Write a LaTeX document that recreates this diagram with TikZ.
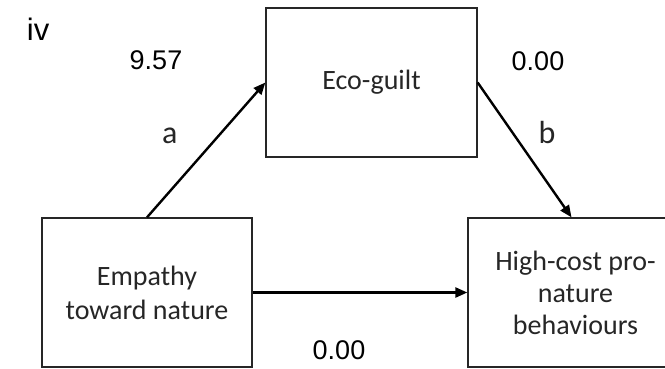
\documentclass[tikz,border=0pt]{standalone}
\usepackage{fontspec}
\setmainfont{Carlito}
\newfontfamily\numfont{Liberation Sans}
\usetikzlibrary{arrows.meta}
\definecolor{inkgray}{HTML}{262626}
\tikzset{
  varbox/.style={draw=inkgray, line width=1.3pt, inner sep=0pt, align=center,
    minimum height=149pt, text=inkgray, font=\fontsize{28}{34}\selectfont},
  path/.style={line width=2.4pt, -{Triangle[length=12pt,width=10pt]}},
  coef/.style={inner sep=0pt, anchor=base, font=\numfont\fontsize{27}{30}\selectfont},
  pathname/.style={inner sep=0pt, anchor=base, text=inkgray, font=\fontsize{32}{36}\selectfont}
}
\begin{document}
\begin{tikzpicture}[x=1pt, y=-1pt]
  \useasboundingbox (0,0) rectangle (665,368);
  % variables
  \node[varbox, minimum width=211pt] (eco) at (371.5,82.5) {Eco-guilt};
  \node[varbox, minimum width=210pt] (emp) at (147,292.5) {Empathy\\toward nature};
  \node[varbox, minimum width=215pt, font=\fontsize{28}{32}\selectfont] (high) at (575.5,292.5)
    {High-cost pro-\\nature\\behaviours};
  % paths
  \draw[path] (emp.north) -- (eco.west);
  \draw[path] (eco.east) -- ([xshift=-4pt]high.north);
  \draw[path] (emp.east) -- (high.west);
  % labels
  \node[inner sep=0pt, anchor=base west, font=\numfont\fontsize{31}{34}\selectfont] (panel) at (26.7,40) {iv};
  \node[coef] (ca) at (156,69.3) {9.57};
  \node[coef] (cb) at (538,70) {0.00};
  \node[coef] (cc) at (339,359.3) {0.00};
  \node[pathname] (la) at (169.7,143.3) {a};
  \node[pathname] (lb) at (547,143.3) {b};
\end{tikzpicture}
\end{document}
